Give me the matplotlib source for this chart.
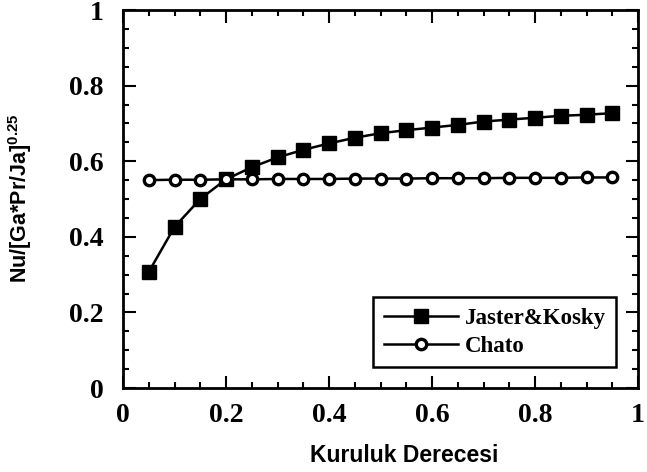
import matplotlib
matplotlib.use("Agg")
import matplotlib.pyplot as plt
from matplotlib.ticker import MultipleLocator

# Vapour quality values (Kuruluk Derecesi)
quality = [0.05, 0.10, 0.15, 0.20, 0.25, 0.30, 0.35, 0.40, 0.45, 0.50,
           0.55, 0.60, 0.65, 0.70, 0.75, 0.80, 0.85, 0.90, 0.95]

# Dimensionless Nusselt number for each correlation
jaster_kosky = [0.307, 0.426, 0.500, 0.552, 0.584, 0.610, 0.630, 0.647, 0.662, 0.674,
                0.682, 0.689, 0.696, 0.705, 0.710, 0.715, 0.720, 0.723, 0.727]
chato = [0.550, 0.551, 0.551, 0.552, 0.552, 0.553, 0.553, 0.553, 0.554, 0.554,
         0.554, 0.555, 0.555, 0.555, 0.556, 0.556, 0.556, 0.557, 0.557]

series_labels = ["Jaster&Kosky", "Chato"]
x_label = "Kuruluk Derecesi"
y_label = r"Nu/[Ga*Pr/Ja]$^{0.25}$"
tick_values = [0, 0.2, 0.4, 0.6, 0.8, 1.0]
tick_labels = ["0", "0.2", "0.4", "0.6", "0.8", "1"]

plt.rcParams["mathtext.fontset"] = "custom"
plt.rcParams["mathtext.rm"] = "Liberation Sans:bold"
plt.rcParams["mathtext.default"] = "rm"

fig = plt.figure(figsize=(6.47, 4.72), dpi=100)
ax = fig.add_axes([123 / 647, 1 - 388 / 472, 515 / 647, 378 / 472])

ax.plot(quality, jaster_kosky, color="black", lw=1.8, marker="s", ms=10,
        mfc="black", mec="black", label=series_labels[0])
ax.plot(quality, chato, color="black", lw=1.8, marker="o", ms=7.5,
        mfc="white", mec="black", mew=2.4, label=series_labels[1])

ax.set_xlim(0, 1)
ax.set_ylim(0, 1)
ax.xaxis.set_minor_locator(MultipleLocator(0.05))
ax.yaxis.set_minor_locator(MultipleLocator(0.05))
ax.tick_params(which="both", direction="in", top=True, right=True, width=1.5)
ax.tick_params(which="major", length=9)
ax.tick_params(which="minor", length=4)
ax.tick_params(axis="x", pad=11)
ax.tick_params(axis="y", pad=14)

ax.set_xticks(tick_values)
ax.set_xticklabels(tick_labels)
ax.set_yticks(tick_values)
ax.set_yticklabels(tick_labels)
for lbl in ax.get_xticklabels() + ax.get_yticklabels():
    lbl.set_fontfamily("Liberation Serif")
    lbl.set_fontweight("bold")
    lbl.set_fontsize(20)

for sp in ax.spines.values():
    sp.set_linewidth(2)

fig.text(404 / 647, 1 - 455 / 472, x_label, ha="center", va="center",
         fontsize=16.5, fontweight="bold", family=["Liberation Sans", "DejaVu Sans"])
fig.text(20 / 647, 1 - 198 / 472, y_label, ha="center", va="center", rotation=90,
         fontsize=15.5, fontweight="bold", fontstretch="condensed",
         family=["Liberation Sans", "DejaVu Sans"])

leg = ax.legend(loc="lower right", bbox_to_anchor=(0.958, 0.055), borderaxespad=0,
                fancybox=False, frameon=True, handlelength=3.25, handletextpad=0.3,
                borderpad=0.45, labelspacing=0.32,
                prop={"family": "Liberation Serif", "weight": "bold", "size": 16.5})
leg.get_frame().set_edgecolor("black")
leg.get_frame().set_linewidth(1.8)
leg.get_frame().set_alpha(1)

fig.savefig("out.png", dpi=100)
